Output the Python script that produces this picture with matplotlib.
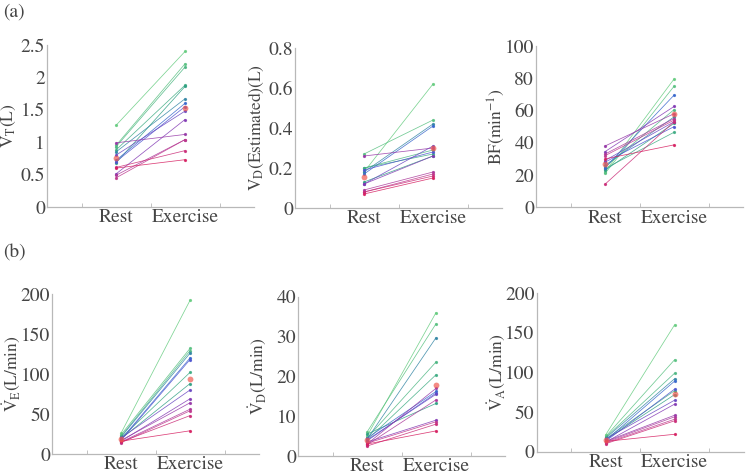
import numpy as np
import matplotlib.pyplot as plt
from matplotlib.colors import LinearSegmentedColormap
from matplotlib.ticker import FuncFormatter, FixedLocator

plt.rcParams["mathtext.fontset"] = "stix"
plt.rcParams["font.family"] = "STIXGeneral"

conditions = ["Rest", "Exercise"]

# subjects ordered by colour (green -> blue -> purple -> crimson)
vt_rest = [1.26, 0.95, 0.93, 0.88, 0.68, 0.85, 0.72, 0.70, 0.80, 0.51, 0.99, 0.49, 0.45, 0.61, 0.60]
vt_ex = [2.40, 2.21, 2.16, 1.88, 1.86, 1.67, 1.60, 1.55, 1.48, 1.35, 1.12, 1.04, 1.04, 0.87, 0.73]

vd_rest = [0.18, 0.27, 0.20, 0.20, 0.13, 0.18, 0.17, 0.19, 0.12, 0.12, 0.26, 0.09, 0.08, 0.08, 0.07]
vd_ex = [0.62, 0.44, 0.29, 0.27, 0.26, 0.42, 0.41, 0.28, 0.31, 0.26, 0.30, 0.18, 0.17, 0.16, 0.15]

bf_rest = [22, 21, 25, 24, 23, 26, 24.5, 28, 29, 34.5, 38, 33, 32, 14.3, 30]
bf_ex = [79.5, 75, 60.5, 46.5, 52, 56, 69.5, 50, 53, 62.5, 58, 55, 54, 53, 38.7]

ve_rest = [26, 24, 22, 20, 19, 21, 18, 17, 20, 16, 17, 15, 14, 15, 16]
ve_ex = [192, 132, 129, 102, 88, 126, 120, 118, 80, 69, 64, 56, 54, 48, 29]

vdd_rest = [5, 6, 4.5, 4, 5.5, 4.2, 4.5, 3.8, 4, 3.5, 3, 2.8, 3.2, 2.5, 3]
vdd_ex = [36, 33.2, 23.6, 20.4, 13.2, 29.7, 16.2, 15.8, 15.5, 9.0, 17, 14.1, 8.6, 8.0, 6.3]

va_rest = [21, 19, 18, 16, 15, 17, 14, 13, 16, 12, 13, 12, 11, 10, 13]
va_ex = [160, 116, 99, 77, 72, 92, 89, 79, 65, 60, 46, 44, 41, 39, 22]

panels = [
    (vt_rest, vt_ex, r"$\mathrm{V_T(L)}$", [0, 0.5, 1, 1.5, 2, 2.5]),
    (vd_rest, vd_ex, r"$\mathrm{V_D(Estimated)(L)}$", [0, 0.2, 0.4, 0.6, 0.8]),
    (bf_rest, bf_ex, r"$\mathrm{BF(min^{-1})}$", [0, 20, 40, 60, 80, 100]),
    (ve_rest, ve_ex, r"$\dot{\mathrm{V}}_\mathrm{E}\mathrm{(L/min)}$", [0, 50, 100, 150, 200]),
    (vdd_rest, vdd_ex, r"$\dot{\mathrm{V}}_\mathrm{D}\mathrm{(L/min)}$", [0, 10, 20, 30, 40]),
    (va_rest, va_ex, r"$\dot{\mathrm{V}}_\mathrm{A}\mathrm{(L/min)}$", [0, 50, 100, 150, 200]),
]

# pixel boxes: x0, y_bottom, y_top
boxes = [(47, 207, 45), (295, 208, 48), (536, 207.3, 46),
         (52, 454, 294), (298, 456, 296.7), (536.5, 451.7, 293.3)]

cmap = LinearSegmentedColormap.from_list("subj", [
    (0.0, (0.40, 0.80, 0.50)),
    (0.3, (0.18, 0.62, 0.52)),
    (0.45, (0.22, 0.36, 0.85)),
    (0.65, (0.52, 0.22, 0.70)),
    (0.85, (0.74, 0.22, 0.56)),
    (1.0, (0.84, 0.12, 0.38)),
])

W, H = 747, 475
fig = plt.figure(figsize=(W / 100, H / 100), dpi=100)
grey = "#b8b8b8"
txt = "#454545"

for (rest, ex, ylab, yt), (x0, yb, ytop) in zip(panels, boxes):
    ax = fig.add_axes([x0 / W, 1 - yb / H, 207 / W, (yb - ytop) / H])
    n = len(rest)
    cols = [cmap(i / (n - 1)) for i in range(n)]
    for i in range(n):
        ax.plot([1, 2], [rest[i], ex[i]], color=cols[i], lw=0.55, marker="o",
                ms=1.3, alpha=0.85, clip_on=False)
    ax.plot([1, 2], [np.mean(rest), np.mean(ex)], "o", color="#f05a50", ms=4.2,
            alpha=0.7, mec="none", zorder=5, clip_on=False)
    ax.set_xlim(0, 3)
    ax.set_ylim(yt[0], yt[-1])
    ax.set_xticks([1, 2])
    ax.set_xticklabels(conditions)
    ax.xaxis.set_minor_locator(FixedLocator([0.5, 1.5, 2.5]))
    ax.set_yticks(yt)
    ax.yaxis.set_major_formatter(FuncFormatter(lambda v, p: "%g" % v))
    for s in ["top", "right"]:
        ax.spines[s].set_visible(False)
    for s in ["left", "bottom"]:
        ax.spines[s].set_color(grey)
        ax.spines[s].set_linewidth(0.9)
    ax.tick_params(axis="both", which="major", length=0, labelsize=14, labelcolor=txt)
    ax.tick_params(axis="y", pad=1.5)
    ax.tick_params(axis="x", pad=1.5)
    ax.tick_params(axis="x", which="minor", length=3, direction="in", color=grey)
    ax.set_ylabel(ylab, fontsize=12.5, color=txt)
    ax.yaxis.set_label_coords(-0.14, 0.5)

fig.text(0.004, 1 - 12 / H, "(a)", fontsize=14, color=txt, va="center")
fig.text(0.004, 1 - 253 / H, "(b)", fontsize=14, color=txt, va="center")

fig.savefig("out.png", dpi=100)
